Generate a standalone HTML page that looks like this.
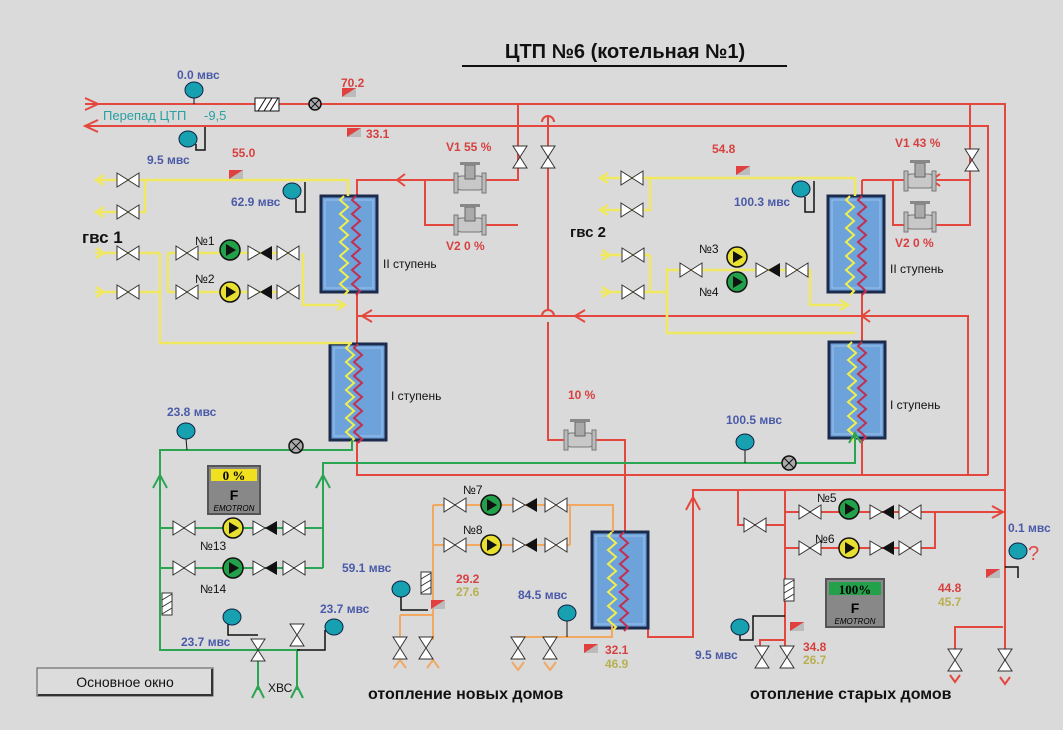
<!DOCTYPE html>
<html><head><meta charset="utf-8"><style>
html,body{margin:0;padding:0;background:#dadada;}
svg{display:block;font-family:"Liberation Sans",sans-serif;}
.r{stroke:#e4473d;stroke-width:2;fill:none}
.y{stroke:#f0e860;stroke-width:2.5;fill:none}
.g{stroke:#2aa552;stroke-width:2;fill:none}
.o{stroke:#f2a860;stroke-width:2;fill:none}
.k{stroke:#111;stroke-width:1.5;fill:none}
.bl{fill:#4a5aa8;font-weight:bold;font-size:12px}
.rd{fill:#d84040;font-weight:bold;font-size:12px}
.kh{fill:#b8b050;font-weight:bold;font-size:12px}
.nm{fill:#111;font-size:12px}
</style></head><body>
<svg width="1063" height="730" viewBox="0 0 1063 730">
<defs>
<g id="v"><path d="M-11,-7 L0,0 L-11,7Z M11,-7 L0,0 L11,7Z" fill="#fff" stroke="#333" stroke-width="1"/></g>
<g id="vv"><path d="M-7,-11 L0,0 L7,-11Z M-7,11 L0,0 L7,11Z" fill="#fff" stroke="#333" stroke-width="1"/></g>
<g id="pg"><circle r="10" fill="#22a04a" stroke="#111" stroke-width="1.5"/><path d="M-4,-6 L6,0 L-4,6Z" fill="#111"/></g>
<g id="py"><circle r="10" fill="#e8e030" stroke="#111" stroke-width="1.5"/><path d="M-4,-6 L6,0 L-4,6Z" fill="#111"/></g>
<g id="ck"><path d="M-12,-7 L0,0 L-12,7Z" fill="#fff" stroke="#333" stroke-width="1"/><path d="M12,-7 L0,0 L12,7Z" fill="#111"/></g>
<g id="ga"><ellipse rx="9" ry="8" fill="#16a0b0" stroke="#124" stroke-width="1"/></g>
<g id="ts"><rect x="-7" y="-5" width="14" height="9" fill="#bbb"/><path d="M-7,-5 H7 L-7,4Z" fill="#e04040"/></g>
<g id="gv"><rect x="-14" y="-7" width="28" height="14" rx="5" fill="#c8c8c8" stroke="#777"/><rect x="-5" y="-18" width="10" height="14" fill="#aaa" stroke="#666"/><rect x="-10" y="-21" width="20" height="3" fill="#888"/><rect x="-16" y="-10" width="4" height="20" fill="#bbb" stroke="#777"/><rect x="12" y="-10" width="4" height="20" fill="#bbb" stroke="#777"/></g>
<g id="zy"><path d="M0,0 l-4,4 l8,7 l-8,7 l8,7 l-8,7 l8,7 l-8,7 l8,7 l-8,7 l8,7 l-8,7 l8,7 l-8,7 l8,7 l-4,4" stroke="#f0ee50" stroke-width="2" fill="none"/></g>
<g id="zr"><path d="M0,0 l-4,4 l8,7 l-8,7 l8,7 l-8,7 l8,7 l-8,7 l8,7 l-8,7 l8,7 l-8,7 l8,7 l-8,7 l8,7 l-4,4" stroke="#c03050" stroke-width="2" fill="none"/></g>
<g id="hx"><rect x="0" y="0" width="56" height="96" fill="#6ea2da" stroke="#1c2a4c" stroke-width="3"/><rect x="4" y="4" width="48" height="88" fill="none" stroke="#9cc2ea" stroke-width="1"/></g>
<g id="fl"><rect x="-5" y="-11" width="10" height="22" fill="#fff" stroke="#333"/><path d="M-5,-4 L5,-10 M-5,3 L5,-3 M-5,10 L5,4" stroke="#333"/></g>
</defs>

<text x="625" y="58" text-anchor="middle" font-size="20" font-weight="bold" fill="#111">ЦТП №6 (котельная №1)</text>
<line x1="462" y1="66" x2="787" y2="66" stroke="#111" stroke-width="2"/>

<path class="r" d="M85,104 H1005 V670"/>
<path class="r" d="M85,98 L98,104 L85,110"/>
<path class="r" d="M85,126 H988 V475"/>
<path class="r" d="M98,120 L85,126 L98,132"/>
<path class="r" d="M518,104 V180 H357 V475 H988"/>
<path class="r" d="M425,180 V225 H518"/>
<path class="r" d="M405,174 L397,180 L405,186"/>
<path class="r" d="M548,116 V310 M548,322 V440 H625 V532"/>
<path class="r" d="M542,122 a6,6 0 0 1 12,0 M542,316 a6,6 0 0 1 12,0"/>
<path class="r" d="M357,316 H968 V475"/>
<path class="r" d="M372,310 L362,316 L372,322 M585,310 L575,316 L585,322 M870,310 L862,316 L870,322"/>
<path class="r" d="M970,104 V225 H893 V180 H970 M862,180 H893"/>
<path class="r" d="M862,180 V475"/>
<path class="r" d="M940,174 L932,180 L940,186"/>
<path class="r" d="M648,580 V637 H693 V490 H1005"/>
<path class="r" d="M686,510 L693,497 L700,510"/>
<path class="r" d="M738,490 V525 H785 M785,490 V640 H760 V650 M785,610 V650"/>
<path class="r" d="M785,512 H935 V548 H785 M935,512 H1003"/>
<path class="r" d="M992,506 L1003,512 L992,518"/>
<path class="r" d="M1003,627 H955 V655"/>
<path class="r" d="M1005,627 V670"/>

<use href="#hx" x="321" y="196"/><use href="#zy" x="344" y="196"/><use href="#zr" x="356" y="196"/>
<use href="#hx" x="330" y="344"/><use href="#zy" x="350" y="344"/><use href="#zr" x="358" y="344"/>
<use href="#hx" x="828" y="196"/><use href="#zy" x="850" y="196"/><use href="#zr" x="862" y="196"/>
<use href="#hx" x="829" y="342"/><use href="#zy" x="852" y="342"/><use href="#zr" x="862" y="342"/>
<use href="#hx" x="592" y="532"/><use href="#zy" x="612" y="532"/><use href="#zr" x="624" y="532"/>
<text x="383" y="268" class="nm" font-size="14">II ступень</text>
<text x="391" y="400" class="nm" font-size="14">I ступень</text>
<text x="890" y="273" class="nm" font-size="14">II ступень</text>
<text x="890" y="409" class="nm" font-size="14">I ступень</text>

<path class="y" d="M95,180 H348 V196 M95,212 H145 V180"/>
<path class="y" d="M95,253 H160 M95,292 H160 M160,253 V343 H352 M168,253 V292 M168,253 H298 M168,292 H298 M303,253 V305 H345"/>
<path class="y" d="M104,175 L96,180 L104,185 M104,207 L96,212 L104,217 M96,248 L104,253 L96,258 M96,287 L104,292 L96,297 M337,300 L345,305 L337,310"/>
<use href="#v" x="128" y="180"/><use href="#v" x="128" y="212"/><use href="#v" x="128" y="253"/><use href="#v" x="128" y="292"/>
<use href="#v" x="187" y="253"/><use href="#v" x="187" y="292"/>
<use href="#pg" x="230" y="250"/><use href="#py" x="230" y="292"/>
<use href="#ck" x="260" y="253"/><use href="#ck" x="260" y="292"/>
<use href="#v" x="288" y="253"/><use href="#v" x="288" y="292"/>
<text x="195" y="245" class="nm">№1</text><text x="195" y="283" class="nm">№2</text>
<text x="82" y="243" font-size="17" font-weight="bold" fill="#111">гвс 1</text>

<path class="y" d="M600,178 H855 V196 M600,210 H650 V178"/>
<path class="y" d="M600,255 H650 M600,292 H650 M650,255 V292 M650,292 H667 M667,268 V333 H855 M667,270 H810 V305 H848"/>
<path class="y" d="M608,173 L600,178 L608,183 M608,205 L600,210 L608,215 M602,250 L610,255 L602,260 M602,287 L610,292 L602,297 M840,300 L848,305 L840,310"/>
<use href="#v" x="632" y="178"/><use href="#v" x="632" y="210"/><use href="#v" x="633" y="255"/><use href="#v" x="633" y="292"/>
<use href="#v" x="691" y="270"/>
<use href="#py" x="737" y="257"/><use href="#pg" x="737" y="282"/>
<use href="#ck" x="768" y="270"/><use href="#v" x="797" y="270"/>
<text x="699" y="253" class="nm">№3</text><text x="699" y="296" class="nm">№4</text>
<text x="570" y="237" font-size="15" font-weight="bold" fill="#111">гвс 2</text>

<path class="g" d="M352,440 V450 H160 V650 H300 M160,528 H323 M160,568 H323 M323,568 V463 H855 V433"/>
<path class="g" d="M153,488 L160,475 L167,488 M316,488 L323,475 L330,488 M849,443 L855,433 L861,443"/>
<path class="g" d="M258,650 V690 M297,650 V690 M252,698 L258,686 L264,698 M291,698 L297,686 L303,698"/>
<path class="k" d="M228,620 V635 H258 M297,650 H325 V630"/>
<use href="#fl" x="167" y="604"/>
<use href="#v" x="184" y="528"/><use href="#v" x="184" y="568"/>
<use href="#py" x="233" y="528"/><use href="#pg" x="233" y="568"/>
<use href="#ck" x="265" y="528"/><use href="#ck" x="265" y="568"/>
<use href="#v" x="294" y="528"/><use href="#v" x="294" y="568"/>
<use href="#vv" x="258" y="650"/><use href="#vv" x="297" y="635"/>
<text x="200" y="550" class="nm">№13</text><text x="200" y="593" class="nm">№14</text>
<text x="268" y="692" class="nm">ХВС</text>

<rect x="208" y="466" width="52" height="48" fill="#888" stroke="#555" stroke-width="2"/>
<rect x="211" y="469" width="46" height="12" fill="#f0e020"/>
<text x="234" y="480" text-anchor="middle" font-family="Liberation Serif" font-weight="bold" font-size="13">0 %</text>
<text x="234" y="500" text-anchor="middle" font-weight="bold" font-size="14">F</text>
<text x="234" y="511" text-anchor="middle" font-style="italic" font-size="8">EMOTRON</text>
<rect x="826" y="579" width="58" height="48" fill="#888" stroke="#555" stroke-width="2"/>
<rect x="829" y="582" width="52" height="13" fill="#22a04a"/>
<text x="855" y="594" text-anchor="middle" font-family="Liberation Serif" font-weight="bold" font-size="13">100%</text>
<text x="855" y="613" text-anchor="middle" font-weight="bold" font-size="14">F</text>
<text x="855" y="624" text-anchor="middle" font-style="italic" font-size="8">EMOTRON</text>

<path class="o" d="M433,505 H570 M433,545 H570 M570,505 V545 M570,505 H613 V532 M433,505 V640 M400,615 H433 M400,615 V655"/>
<path class="o" d="M515,637 H612 V625 M518,637 V660 M550,637 V660"/>
<path class="o" d="M394,668 L400,660 L406,668 M427,668 L433,660 L439,668 M512,662 L518,670 L524,662 M544,662 L550,670 L556,662"/>
<use href="#v" x="455" y="505"/><use href="#v" x="455" y="545"/>
<use href="#pg" x="491" y="505"/><use href="#py" x="491" y="545"/>
<use href="#ck" x="525" y="505"/><use href="#ck" x="525" y="545"/>
<use href="#v" x="556" y="505"/><use href="#v" x="556" y="545"/>
<use href="#fl" x="426" y="583"/>
<use href="#vv" x="400" y="648"/><use href="#vv" x="426" y="648"/><use href="#vv" x="518" y="648"/><use href="#vv" x="550" y="648"/>
<text x="463" y="494" class="nm">№7</text><text x="463" y="534" class="nm">№8</text>

<use href="#v" x="755" y="525"/>
<use href="#v" x="810" y="512"/><use href="#v" x="810" y="548"/>
<use href="#pg" x="849" y="509"/><use href="#py" x="849" y="548"/>
<use href="#ck" x="882" y="512"/><use href="#ck" x="882" y="548"/>
<use href="#v" x="910" y="512"/><use href="#v" x="910" y="548"/>
<text x="817" y="502" class="nm">№5</text><text x="815" y="543" class="nm">№6</text>
<use href="#fl" x="789" y="590"/>
<use href="#vv" x="762" y="657"/><use href="#vv" x="787" y="657"/>
<use href="#vv" x="955" y="660"/><use href="#vv" x="1005" y="660"/>
<path class="k" d="M740,627 V640 H753 V616 H785"/>
<path class="k" d="M1005,567 H1018 V578"/>
<path class="r" d="M950,675 L955,682 L960,675 M1000,677 L1005,684 L1010,677"/>

<use href="#ga" x="194" y="90"/><line x1="194" y1="98" x2="194" y2="104" stroke="#111"/>
<use href="#ga" x="188" y="139"/><path class="k" d="M196,144 V150 H205 V127"/>
<use href="#ga" x="292" y="191"/><path class="k" d="M296,199 V212 H305 V182"/>
<use href="#ga" x="801" y="189"/><path class="k" d="M805,197 V212 H814 V181"/>
<use href="#ga" x="186" y="431"/><line x1="186" y1="439" x2="187" y2="450" stroke="#111"/>
<use href="#ga" x="745" y="442"/><line x1="745" y1="450" x2="745" y2="463" stroke="#111"/>
<use href="#ga" x="232" y="617"/>
<use href="#ga" x="334" y="627"/>
<use href="#ga" x="401" y="589"/><path class="k" d="M401,597 V610 H428"/>
<use href="#ga" x="567" y="613"/><line x1="567" y1="621" x2="567" y2="637" stroke="#111"/>
<use href="#ga" x="740" y="627"/>
<use href="#ga" x="1018" y="551"/>
<text x="1028" y="560" fill="#e04848" font-size="20">?</text>
<use href="#ts" x="349" y="93"/><use href="#ts" x="354" y="133"/><use href="#ts" x="236" y="175"/><use href="#ts" x="743" y="171"/>
<use href="#ts" x="438" y="605"/><use href="#ts" x="591" y="649"/><use href="#ts" x="797" y="627"/><use href="#ts" x="993" y="574"/>
<circle cx="315" cy="104" r="6" fill="#aaa" stroke="#111" stroke-width="1.5"/><path d="M311,100 L319,108 M319,100 L311,108" stroke="#111"/>
<circle cx="296" cy="446" r="7" fill="#aaa" stroke="#111" stroke-width="1.5"/><path d="M291,441 L301,451 M301,441 L291,451" stroke="#111"/>
<circle cx="789" cy="463" r="7" fill="#aaa" stroke="#111" stroke-width="1.5"/><path d="M784,458 L794,468 M794,458 L784,468" stroke="#111"/>
<rect x="255" y="98" width="24" height="13" fill="#fff" stroke="#111"/><path d="M258,111 L266,98 M264,111 L272,98 M270,111 L278,98" stroke="#111"/>
<use href="#vv" x="520" y="157"/><use href="#vv" x="548" y="157"/><use href="#vv" x="972" y="160"/>
<use href="#gv" x="470" y="183"/><use href="#gv" x="470" y="225"/>
<use href="#gv" x="920" y="181"/><use href="#gv" x="920" y="222"/>
<use href="#gv" x="580" y="440"/>

<text x="177" y="79" class="bl">0.0 мвс</text>
<text x="103" y="120" fill="#2aa0a0" font-size="13">Перепад ЦТП</text>
<text x="204" y="120" fill="#2aa0a0" font-size="13">-9,5</text>
<text x="147" y="164" class="bl">9.5 мвс</text>
<text x="341" y="87" class="rd">70.2</text>
<text x="366" y="138" class="rd">33.1</text>
<text x="232" y="157" class="rd">55.0</text>
<text x="231" y="206" class="bl">62.9 мвс</text>
<text x="446" y="151" class="rd">V1   55 %</text>
<text x="446" y="250" class="rd">V2    0 %</text>
<text x="712" y="153" class="rd">54.8</text>
<text x="734" y="206" class="bl">100.3 мвс</text>
<text x="895" y="147" class="rd">V1   43 %</text>
<text x="895" y="247" class="rd">V2    0 %</text>
<text x="568" y="399" class="rd" font-size="10">10 %</text>
<text x="726" y="424" class="bl">100.5 мвс</text>
<text x="167" y="416" class="bl">23.8 мвс</text>
<text x="342" y="572" class="bl">59.1 мвс</text>
<text x="456" y="583" class="rd">29.2</text>
<text x="456" y="596" class="kh">27.6</text>
<text x="518" y="599" class="bl">84.5 мвс</text>
<text x="320" y="613" class="bl">23.7 мвс</text>
<text x="181" y="646" class="bl">23.7 мвс</text>
<text x="605" y="654" class="rd">32.1</text>
<text x="605" y="668" class="kh">46.9</text>
<text x="695" y="659" class="bl">9.5 мвс</text>
<text x="803" y="651" class="rd">34.8</text>
<text x="803" y="664" class="kh">26.7</text>
<text x="938" y="592" class="rd">44.8</text>
<text x="938" y="606" class="kh">45.7</text>
<text x="1008" y="532" class="bl">0.1 мвс</text>
<text x="368" y="699" font-size="16" font-weight="bold" fill="#111">отопление новых домов</text>
<text x="750" y="699" font-size="16" font-weight="bold" fill="#111">отопление старых домов</text>

<rect x="37" y="668" width="176" height="28" fill="#dcdcdc" stroke="#555"/>
<path d="M38,695 H212 V669" stroke="#333" stroke-width="2" fill="none"/>
<text x="125" y="687" text-anchor="middle" font-size="14" fill="#111">Основное окно</text>
</svg>
</body></html>
